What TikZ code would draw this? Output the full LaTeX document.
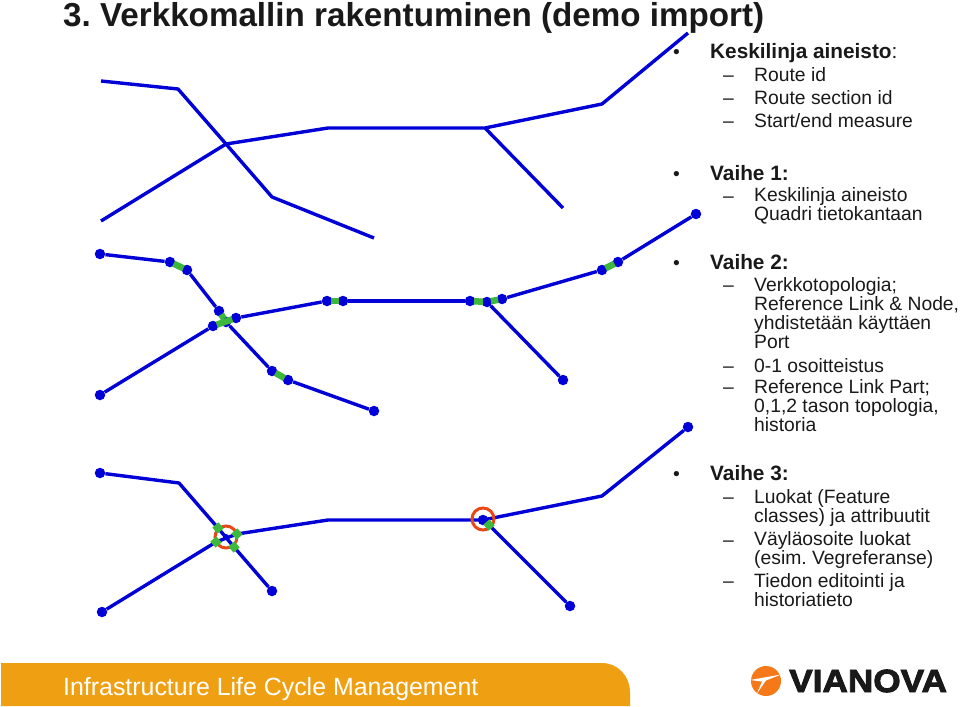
\documentclass[tikz,border=0pt]{standalone}
\usepackage{fontspec}
\setmainfont{Liberation Sans}
\newfontfamily\logofont[BoldFeatures={FakeBold=3,FakeStretch=1.1}]{Liberation Sans}
\usetikzlibrary{calc}
\definecolor{netblue}{RGB}{0,0,215}
\definecolor{linkgreen}{RGB}{60,184,60}
\definecolor{ringred}{RGB}{232,72,24}
\definecolor{bandorange}{RGB}{239,160,18}
\definecolor{logoorange}{RGB}{245,120,25}

\begin{document}
\frenchspacing
\begin{tikzpicture}[
  x=1pt, y=-1pt,
  every node/.style={inner sep=0pt, text=black!90},
  net/.style={draw=netblue, line width=3.4pt, line join=round},
  enddot/.style={circle, fill=netblue, minimum size=10.5pt},
  link/.style={draw=linkgreen, line width=6.5pt, shorten <=-1.5pt, shorten >=-1.5pt},
  endsq/.style={rectangle, fill=linkgreen, minimum size=8pt, rotate=40},
  ring/.style={circle, draw=ringred, line width=3pt, minimum size=22pt},
  head/.style={anchor=base west, font=\bfseries\fontsize{33.2}{33}\selectfont},
  lone/.style={anchor=base west, font=\fontsize{19.3}{19}\selectfont},
  ltop/.style={anchor=base west, font=\bfseries\fontsize{20.8}{19}\selectfont},
  ltwo/.style={anchor=base west, align=left, font=\fontsize{19.3}{19}\selectfont},
  bul/.style={anchor=base west, font=\fontsize{19.3}{19}\selectfont},
]
\useasboundingbox (0,0) rectangle (960,706);

\node[head] (title) at (63,27) {3. Verkkomallin rakentuminen (demo import)};

% top network
\foreach \name/\pos in {a1/{101,81}, a2/{178,89}, a3/{226,144}, a4/{272,197}, a5/{374,238},
                        a6/{101,221}, a7/{328,128}, a8/{485,128}, a9/{602,104}, a10/{688,33},
                        a11/{563,208}}
  \coordinate (\name) at (\pos);
\draw[net] (a1) -- (a2) -- (a3) -- (a4) -- (a5);
\draw[net] (a6) -- (a3) -- (a7) -- (a8) -- (a9) -- (a10);
\draw[net] (a8) -- (a11);

% middle network
\foreach \name/\pos in {b1/{100,254}, b2/{170,262}, b3/{187,270}, b4/{219,311}, b5/{236,318},
                        b6/{213,326}, b7/{226,322}, b8/{272,371}, b9/{288,380}, b10/{374,411},
                        b11/{100,395}, b12/{327,301}, b13/{343,301}, b14/{470,301}, b15/{487,302},
                        b16/{502,299}, b17/{602,270}, b18/{618,262}, b19/{696,214}, b20/{563,380}}
  \node[enddot] (\name) at (\pos) {};
\draw[net] (b1) -- (b2);
\draw[net] (b3) -- (b4);
\draw[net] (b7) -- (b8);
\draw[net] (b9) -- (b10);
\draw[net] (b11) -- (b6);
\draw[net] (b5) -- (b12);
\draw[net] (b13) -- (b14);
\draw[net] (b16) -- (b17);
\draw[net] (b18) -- (b19);
\draw[net] (b15) -- (b20);
\draw[link] (b2) -- (b3);
\draw[link] (b8) -- (b9);
\draw[link] (b12) -- (b13);
\draw[link] (b14) -- (b15);
\draw[link] (b15) -- (b16);
\draw[link] (b17) -- (b18);
\draw[link] (b4) -- (b7);
\draw[link] (b6) -- (b5);

% bottom network
\foreach \name/\pos in {c1/{100,473}, c4/{102,612}, c5/{272,591}, c8/{483,520},
                        c9/{570,606}, c10/{688,427}}
  \node[enddot] (\name) at (\pos) {};
\node[enddot, minimum size=6pt] (c11) at (226,537) {};
\foreach \name/\pos in {c2/{179,483}, c6/{328,520}, c7/{602,496}}
  \coordinate (\name) at (\pos);
\foreach \name/\pos in {s1/{218,528}, s2/{237,534}, s3/{216,542}, s4/{234,547}, s5/{489,525}}
  \coordinate (\name) at (\pos);
\draw[net] (c1) -- (c2) -- (s1) -- (s4) -- (c5);
\draw[net] (c4) -- (s3) -- (s2) -- (c6) -- (c8.center) -- (c7) -- (c10);
\draw[net] (s5) -- (c9);
\node[ring] (r1) at (226,537) {};
\node[ring] (r2) at (483,519) {};
\foreach \name in {s1, s2, s3, s4, s5}
  \node[endsq] (q\name) at (\name) {};

% text column
\foreach \y in {59, 180, 269, 480}
  \node[bul] (p\y) at (673,\y) {•};
\foreach \y in {82, 105, 128, 202, 291, 372, 393, 503, 546, 587}
  \node[bul] (d\y) at (723,\y) {–};
\node[ltop] (k0) at (710,59) {Keskilinja aineisto\mdseries:};
\node[lone] (k1) at (754,82) {Route id};
\node[lone] (k2) at (754,105) {Route section id};
\node[lone] (k3) at (754,128) {Start/end measure};
\node[ltop] (v1) at (710,180) {Vaihe 1:};
\node[ltwo] (v11) at (754,220) {Keskilinja aineisto\\Quadri tietokantaan};
\node[ltop] (v2) at (710,269) {Vaihe 2:};
\node[ltwo] (v21) at (754,348) {Verkkotopologia;\\Reference Link \& Node,\\yhdistetään käyttäen\\Port};
\node[lone] (v22) at (754,372) {0-1 osoitteistus};
\node[ltwo] (v23) at (754,431) {Reference Link Part;\\0,1,2 tason topologia,\\historia};
\node[ltop] (v3) at (710,480) {Vaihe 3:};
\node[ltwo] (v31) at (754,522) {Luokat (Feature\\classes) ja attribuutit};
\node[ltwo] (v32) at (754,564) {Väyläosoite luokat\\(esim. Vegreferanse)};
\node[ltwo] (v33) at (754,606) {Tiedon editointi ja\\historiatieto};

% footer
\fill[bandorange] (1,706) -- (1,663) -- (602,663) to[out=0,in=90] (630,692) -- (630,706) -- cycle;
\node[anchor=base west, text=white, font=\fontsize{24.9}{25}\selectfont] (foot) at (63,695)
  {Infrastructure Life Cycle Management};
\fill[logoorange] (766,681) circle (15);
\fill[white] (750,680) -- (781,674.5) -- (766,680.5) -- (757,693.5) -- (762,681.5) -- cycle;
\node[anchor=base west, font=\logofont\bfseries\fontsize{32}{32}\selectfont] (logo)
  at (789,692) {VIANOVA};
\end{tikzpicture}
\end{document}
